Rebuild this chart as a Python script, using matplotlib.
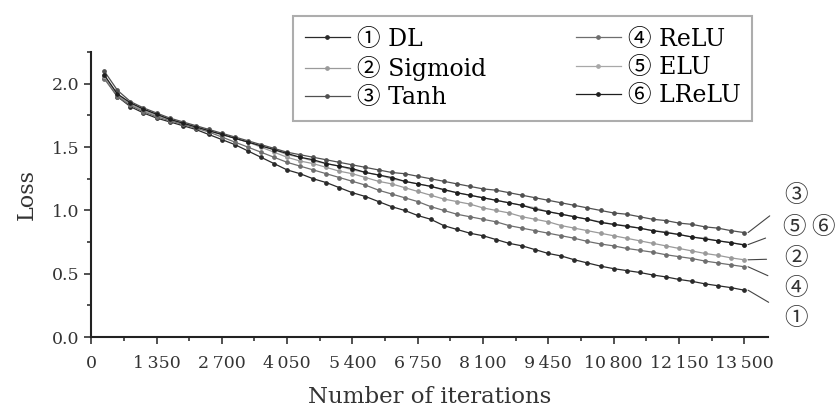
import numpy as np
import matplotlib.pyplot as plt
from matplotlib.ticker import MultipleLocator, FixedLocator

# iterations (every 270)
iters = [270 * k for k in range(1, 51)]

loss_dl = [2.05, 1.90, 1.82, 1.77, 1.73, 1.70, 1.67, 1.64, 1.60, 1.56,
           1.52, 1.47, 1.42, 1.37, 1.32, 1.29, 1.25, 1.22, 1.18, 1.14,
           1.11, 1.07, 1.03, 1.00, 0.96, 0.93, 0.88, 0.85, 0.82, 0.80,
           0.77, 0.74, 0.72, 0.69, 0.66, 0.64, 0.61, 0.585, 0.56, 0.54,
           0.525, 0.51, 0.49, 0.475, 0.455, 0.44, 0.42, 0.405, 0.39, 0.37]
loss_sigmoid = [2.05, 1.91, 1.84, 1.79, 1.75, 1.72, 1.69, 1.66, 1.63, 1.60,
                1.57, 1.54, 1.50, 1.46, 1.42, 1.39, 1.37, 1.34, 1.31, 1.29,
                1.26, 1.23, 1.21, 1.18, 1.15, 1.12, 1.09, 1.07, 1.05, 1.02,
                1.00, 0.98, 0.95, 0.93, 0.91, 0.88, 0.86, 0.84, 0.82, 0.80,
                0.78, 0.76, 0.74, 0.72, 0.70, 0.68, 0.66, 0.645, 0.625, 0.61]
loss_tanh = [2.10, 1.95, 1.86, 1.81, 1.77, 1.73, 1.70, 1.67, 1.64, 1.61,
             1.58, 1.55, 1.52, 1.49, 1.46, 1.44, 1.42, 1.40, 1.38, 1.36,
             1.34, 1.32, 1.30, 1.29, 1.27, 1.25, 1.23, 1.21, 1.19, 1.17,
             1.16, 1.14, 1.12, 1.10, 1.08, 1.06, 1.04, 1.02, 1.00, 0.98,
             0.97, 0.95, 0.93, 0.92, 0.90, 0.89, 0.87, 0.86, 0.84, 0.825]
loss_relu = [2.04, 1.90, 1.83, 1.78, 1.74, 1.71, 1.68, 1.65, 1.62, 1.58,
             1.54, 1.50, 1.46, 1.42, 1.38, 1.35, 1.32, 1.29, 1.26, 1.23,
             1.20, 1.16, 1.13, 1.10, 1.07, 1.03, 1.00, 0.97, 0.95, 0.93,
             0.91, 0.88, 0.86, 0.84, 0.82, 0.80, 0.78, 0.755, 0.735, 0.72,
             0.70, 0.685, 0.67, 0.65, 0.635, 0.62, 0.60, 0.585, 0.57, 0.555]
loss_elu = [2.06, 1.92, 1.85, 1.80, 1.76, 1.72, 1.69, 1.66, 1.63, 1.60,
            1.57, 1.54, 1.51, 1.48, 1.44, 1.42, 1.39, 1.37, 1.35, 1.32,
            1.30, 1.28, 1.25, 1.23, 1.21, 1.19, 1.16, 1.14, 1.12, 1.10,
            1.08, 1.06, 1.04, 1.02, 0.99, 0.97, 0.95, 0.93, 0.91, 0.89,
            0.88, 0.86, 0.84, 0.83, 0.81, 0.79, 0.78, 0.76, 0.745, 0.73]
loss_lrelu = [2.07, 1.92, 1.85, 1.80, 1.76, 1.72, 1.69, 1.66, 1.63, 1.60,
              1.57, 1.54, 1.51, 1.48, 1.45, 1.42, 1.40, 1.37, 1.35, 1.33,
              1.30, 1.28, 1.26, 1.23, 1.21, 1.19, 1.165, 1.14, 1.12, 1.10,
              1.08, 1.06, 1.04, 1.01, 0.99, 0.97, 0.95, 0.93, 0.905, 0.89,
              0.875, 0.86, 0.84, 0.825, 0.81, 0.79, 0.775, 0.76, 0.745, 0.727]

names = ["\u2460 DL", "\u2461 Sigmoid", "\u2462 Tanh",
         "\u2463 ReLU", "\u2464 ELU", "\u2465 LReLU"]
series = [loss_dl, loss_sigmoid, loss_tanh, loss_relu, loss_elu, loss_lrelu]
colors = ["#2a2a2a", "#9a9a9a", "#505050", "#6e6e6e", "#a8a8a8", "#1e1e1e"]

xticks = [0, 1350, 2700, 4050, 5400, 6750, 8100, 9450, 10800, 12150, 13500]
xticklabels = ["0", "1\u2009350", "2\u2009700", "4\u2009050", "5\u2009400", "6\u2009750",
               "8\u2009100", "9\u2009450", "10\u2009800", "12\u2009150", "13\u2009500"]

# end labels: circled number, series index, label position (x, y)
end_labels = [("\u2462", 2, 14580, 1.12), ("\u2464", 4, 14540, 0.867),
              ("\u2461", 1, 14580, 0.621), ("\u2463", 3, 14580, 0.383),
              ("\u2460", 0, 14580, 0.145)]

serif = ["DejaVu Serif", "Noto Sans CJK JP", "DejaVu Sans"]
plt.rcParams["font.family"] = serif

fig = plt.figure(figsize=(8.37, 4.11), dpi=100)
ax = fig.add_axes([0.109, 0.180, 0.809, 0.693])

for name, ys, c in zip(names, series, colors):
    ax.plot(iters, ys, color=c, lw=0.9, marker="o", ms=2.4, label=name)

ax.set_xlim(0, 14000)
ax.set_ylim(0, 2.25)
ax.xaxis.set_major_locator(FixedLocator(xticks))
ax.set_xticklabels(xticklabels)
ax.xaxis.set_minor_locator(MultipleLocator(675))
ax.yaxis.set_major_locator(MultipleLocator(0.5))
ax.yaxis.set_minor_locator(MultipleLocator(0.25))
ax.yaxis.set_major_formatter(plt.FormatStrFormatter("%.1f"))
ax.tick_params(which="major", direction="out", length=5, width=1.2, labelsize=12.5, colors="#333")
ax.tick_params(axis="x", which="major", pad=8)
ax.tick_params(which="minor", direction="out", length=3, width=1.2, colors="#333")
for s in ["top", "right"]:
    ax.spines[s].set_visible(False)
for s in ["left", "bottom"]:
    ax.spines[s].set_linewidth(1.5)
    ax.spines[s].set_color("#222")

ax.set_xlabel("Number of iterations", fontsize=16.5, color="#333", labelpad=10)
ax.set_ylabel("Loss", fontsize=16, color="#333", labelpad=10)

for lab, idx, tx, ty in end_labels:
    ax.annotate(lab, xy=(iters[-1] + 80, series[idx][-1]), xytext=(tx, ty),
                textcoords="data", fontsize=17, ha="center", va="center",
                family=["Noto Sans CJK JP"], color="#333", annotation_clip=False,
                arrowprops=dict(arrowstyle="-", lw=0.8, color="#444",
                                shrinkA=11, shrinkB=0))
ax.text(15130, 0.867, "\u2465", fontsize=17, ha="center", va="center",
        family=["Noto Sans CJK JP"], color="#333", clip_on=False)

leg = fig.legend(loc="upper left", bbox_to_anchor=(0.336, 0.99), ncol=2,
                 fontsize=17, frameon=True, fancybox=False, edgecolor="#999",
                 handlelength=1.9, columnspacing=3.8, labelspacing=0.22,
                 borderpad=0.5, handletextpad=0.3)
leg.get_frame().set_linewidth(1.5)

fig.savefig("out.png", dpi=100)
